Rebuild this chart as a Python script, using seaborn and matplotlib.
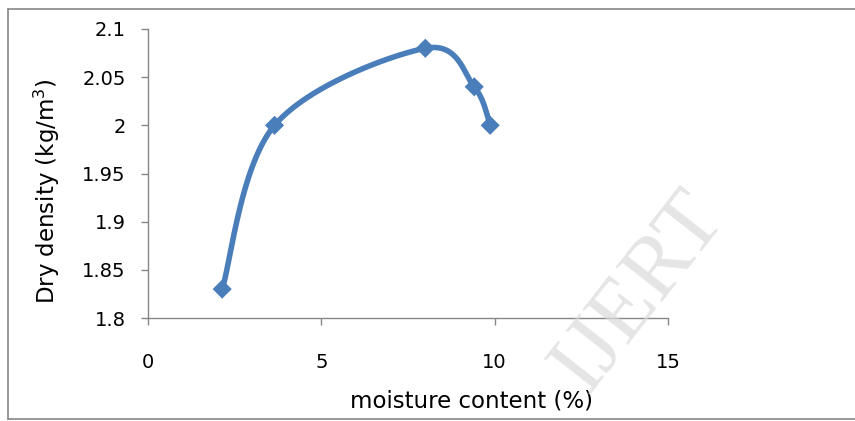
import numpy as np
import pandas as pd
import matplotlib
matplotlib.use("Agg")
import matplotlib.pyplot as plt
from matplotlib.lines import Line2D
import seaborn as sns

# Compaction test results
moisture = [2.14, 3.65, 8.0, 9.41, 9.87]        # moisture content (%)
dry_density = [1.83, 2.00, 2.08, 2.04, 2.00]    # dry density (kg/m3)
x_ticks = [0, 5, 10, 15]
y_ticks = [1.8, 1.85, 1.9, 1.95, 2.0, 2.05, 2.1]
y_tick_labels = ["1.8", "1.85", "1.9", "1.95", "2", "2.05", "2.1"]

sns.set_theme(style="white")
plt.rcParams["font.family"] = ["DejaVu Sans"]

W, H = 855, 421
fig = plt.figure(figsize=(W / 100, H / 100), dpi=100)
ax = fig.add_axes([148 / W, 1 - 318 / H, 520 / W, 289 / H])

xmin, xmax, ymin, ymax = 0, 15, 1.8, 2.1
ax.set_xlim(xmin, xmax)
ax.set_ylim(ymin, ymax)

# Smoothed curve: cubic Bezier segments through the points (computed in screen-proportional units)
sx, sy = 520 / (xmax - xmin), 289 / (ymax - ymin)
P = np.column_stack([(np.array(moisture) - xmin) * sx, (np.array(dry_density) - ymin) * sy])
n = len(P)
curve = []
t = np.linspace(0, 1, 60)[:, None]
for i in range(n - 1):
    p0 = P[i - 1] if i > 0 else P[i]
    p1, p2 = P[i], P[i + 1]
    p3 = P[i + 2] if i + 2 < n else P[i + 1]
    c1 = p1 + (p2 - p0) / 6
    c2 = p2 - (p3 - p1) / 6
    seg = (1 - t) ** 3 * p1 + 3 * (1 - t) ** 2 * t * c1 + 3 * (1 - t) * t ** 2 * c2 + t ** 3 * p2
    curve.append(seg if i == 0 else seg[1:])
curve = np.vstack(curve)
smooth = pd.DataFrame({"x": curve[:, 0] / sx + xmin, "y": curve[:, 1] / sy + ymin})
pts = pd.DataFrame({"x": moisture, "y": dry_density})

blue = "#4a7ebb"
sns.lineplot(data=smooth, x="x", y="y", sort=False, estimator=None, ax=ax,
             color=blue, linewidth=4.0, zorder=3)
sns.scatterplot(data=pts, x="x", y="y", marker="D", s=95, color=blue,
                edgecolor="none", linewidth=0, ax=ax, zorder=4)

gray = "#868686"
for side in ["top", "right"]:
    ax.spines[side].set_visible(False)
for side in ["left", "bottom"]:
    ax.spines[side].set_color(gray)
    ax.spines[side].set_linewidth(1.0)

ax.set_xticks(x_ticks)
ax.set_yticks(y_ticks)
ax.set_yticklabels(y_tick_labels)
ax.tick_params(axis="both", direction="out", length=5, width=1.0, color=gray,
               labelsize=14, labelcolor="black", bottom=True, left=True)
ax.tick_params(axis="y", pad=11)
ax.tick_params(axis="x", pad=20)
ax.grid(False)

ax.set_xlabel("moisture content (%)", fontsize=16.5, color="black")
ax.xaxis.set_label_coords((471 - 148) / 520, -(403 - 318 + 4) / 289)
ax.xaxis.label.set_va("baseline")
ax.set_ylabel("Dry density (kg/m$^{3}$)", fontsize=16.5, color="black")
ax.yaxis.set_label_coords(-(148 - 62) / 520, (318 - 191) / 289)

# Outer chart frame: left, top and bottom edges (the right edge lies beyond the canvas)
x0, y_top, y_bot = 7.5 / W, 1 - 9 / H, 1 - 419 / H
for xs, ys in [([x0, x0], [y_bot, y_top]), ([x0, 1.0], [y_top, y_top]), ([x0, 1.0], [y_bot, y_bot])]:
    fig.add_artist(Line2D(xs, ys, transform=fig.transFigure, color=gray,
                          linewidth=1.2, zorder=0))

# Publisher watermark
fig.text(640 / W, 1 - 292 / H, "IJERT", rotation=52, fontsize=64,
         family="Liberation Serif", color="#dadada", alpha=0.7,
         ha="center", va="center", zorder=1)

fig.savefig("out.png", dpi=100)
